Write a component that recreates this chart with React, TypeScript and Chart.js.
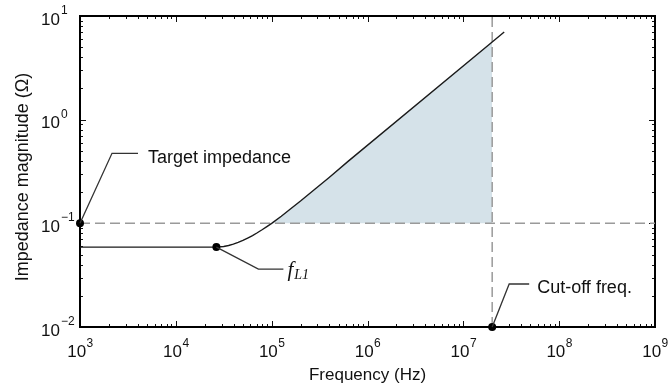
import { useEffect, useRef } from 'react';
import { Chart, registerables } from 'chart.js';

Chart.register(...registerables);

// ---- data ----
const freqHz = [1000, 26500, 31600, 35500, 39800, 44700, 50100, 56200, 63100, 70800, 79400, 89100, 100000, 126000, 158000, 200000, 282000, 398000, 631000, 20000000, 26700000];
const impedanceOhm = [0.059, 0.059, 0.0598, 0.0611, 0.063, 0.0655, 0.0684, 0.0721, 0.0762, 0.0811, 0.0867, 0.0931, 0.1, 0.1172, 0.1384, 0.164, 0.213, 0.277, 0.398, 5.62, 7.0];
const targetImpedance = 0.1;
const cutoffFreq = 2e7;
const fL1Freq = 26500;
const fL1Impedance = 0.059;
const xRange = [1e3, 1e9];
const yRange = [0.01, 10];
const xTickExponents = [3, 4, 5, 6, 7, 8, 9];
const yTickExponents = [-2, -1, 0, 1];
const xTitle = 'Frequency (Hz)';
const yTitle = 'Impedance magnitude (Ω)';
const targetLabel = 'Target impedance';
const cutoffLabel = 'Cut-off freq.';

const SANS = '"Liberation Sans", Arial, Helvetica, sans-serif';
const SERIF = '"Liberation Serif", "Times New Roman", serif';

const curvePts = freqHz.map((f, i) => ({ x: f, y: impedanceOhm[i] }));
const fillPts = curvePts.filter((p) => p.x >= 1e5 && p.x <= cutoffFreq);

function supText(n: number) {
  return n < 0 ? '\u2212' + Math.abs(n) : String(n);
}

const decor = {
  id: 'decor',
  beforeDatasetsDraw(chart: any) {
    const { ctx, chartArea: a, scales } = chart;
    const xs = scales.x;
    const ys = scales.y;
    ctx.save();
    // inward ticks
    ctx.strokeStyle = '#111';
    ctx.lineWidth = 1;
    ctx.beginPath();
    for (let k = xTickExponents[0]; k <= xTickExponents[xTickExponents.length - 1]; k++) {
      for (let m = 1; m <= 9; m++) {
        const v = m * Math.pow(10, k);
        if (v > xRange[1] * 1.0001) break;
        const px = Math.round(xs.getPixelForValue(v)) + 0.5;
        const len = m === 1 ? 6 : 3;
        ctx.moveTo(px, a.bottom);
        ctx.lineTo(px, a.bottom - len);
        ctx.moveTo(px, a.top);
        ctx.lineTo(px, a.top + len);
      }
    }
    for (let k = yTickExponents[0]; k <= yTickExponents[yTickExponents.length - 1]; k++) {
      for (let m = 1; m <= 9; m++) {
        const v = m * Math.pow(10, k);
        if (v > yRange[1] * 1.0001) break;
        const py = Math.round(ys.getPixelForValue(v)) + 0.5;
        const len = m === 1 ? 6 : 3;
        ctx.moveTo(a.left, py);
        ctx.lineTo(a.left + len, py);
        ctx.moveTo(a.right, py);
        ctx.lineTo(a.right - len, py);
      }
    }
    ctx.stroke();
    // frame
    ctx.lineWidth = 2;
    ctx.strokeStyle = '#000';
    ctx.strokeRect(a.left, a.top, a.right - a.left, a.bottom - a.top);
    ctx.restore();
  },
  afterDraw(chart: any) {
    const { ctx, chartArea: a, scales } = chart;
    const xs = scales.x;
    const ys = scales.y;
    ctx.save();
    ctx.fillStyle = '#111';
    ctx.textBaseline = 'alphabetic';
    // x tick labels
    for (const e of xTickExponents) {
      const px = xs.getPixelForValue(Math.pow(10, e));
      ctx.font = '17px ' + SANS;
      const w1 = ctx.measureText('10').width;
      ctx.font = '12px ' + SANS;
      const s = supText(e);
      const w2 = ctx.measureText(s).width;
      const start = px - (w1 + w2) / 2;
      ctx.textAlign = 'left';
      ctx.font = '17px ' + SANS;
      ctx.fillText('10', start, a.bottom + 29.5);
      ctx.font = '12px ' + SANS;
      ctx.fillText(s, start + w1 + 0.5, a.bottom + 20);
    }
    // y tick labels
    for (const e of yTickExponents) {
      const py = ys.getPixelForValue(Math.pow(10, e));
      ctx.font = '17px ' + SANS;
      ctx.textAlign = 'right';
      ctx.fillText('10', a.left - 20, py + 8.5);
      ctx.font = '12px ' + SANS;
      ctx.textAlign = 'left';
      ctx.fillText(supText(e), a.left - 19, py - 2);
    }
    // axis titles
    ctx.font = '17px ' + SANS;
    ctx.textAlign = 'center';
    ctx.fillText(xTitle, (a.left + a.right) / 2 + 0, 380);
    ctx.save();
    ctx.translate(28, 177);
    ctx.rotate(-Math.PI / 2);
    ctx.font = '18px ' + SANS;
    ctx.fillText(yTitle, 0, 0);
    ctx.restore();

    // annotations with leader lines
    ctx.strokeStyle = '#333';
    ctx.lineWidth = 1.3;
    const tx = xs.getPixelForValue(xRange[0]);
    const ty = ys.getPixelForValue(targetImpedance);
    ctx.beginPath();
    ctx.moveTo(tx, ty);
    ctx.lineTo(tx + 32, ty - 70);
    ctx.lineTo(tx + 58, ty - 70);
    ctx.stroke();
    ctx.font = '18px ' + SANS;
    ctx.textAlign = 'left';
    ctx.fillText(targetLabel, tx + 68, ty - 60);

    const fx = xs.getPixelForValue(fL1Freq);
    const fy = ys.getPixelForValue(fL1Impedance);
    ctx.beginPath();
    ctx.moveTo(fx, fy);
    ctx.lineTo(fx + 42, fy + 22);
    ctx.lineTo(fx + 67, fy + 22);
    ctx.stroke();
    ctx.font = 'italic 21px ' + SERIF;
    ctx.fillText('f', fx + 71, fy + 29);
    const fw = ctx.measureText('f').width;
    ctx.font = 'italic 14px ' + SERIF;
    ctx.fillText('L1', fx + 71 + fw + 1, fy + 31.5);

    const cx = xs.getPixelForValue(cutoffFreq);
    const cy = ys.getPixelForValue(yRange[0]);
    ctx.beginPath();
    ctx.moveTo(cx, cy);
    ctx.lineTo(cx + 17, cy - 43);
    ctx.lineTo(cx + 37, cy - 43);
    ctx.stroke();
    ctx.font = '18px ' + SANS;
    ctx.fillText(cutoffLabel, cx + 45, cy - 34);
    ctx.restore();
  },
};

export default function App() {
  const ref = useRef<HTMLCanvasElement>(null);
  useEffect(() => {
    const canvas = ref.current!;
    const chart = new Chart(canvas, {
      type: 'scatter',
      data: {
        datasets: [
          {
            label: 'markers',
            data: [
              { x: xRange[0], y: targetImpedance },
              { x: fL1Freq, y: fL1Impedance },
              { x: cutoffFreq, y: yRange[0] },
            ],
            pointRadius: 4,
            pointBackgroundColor: '#000',
            pointBorderColor: '#000',
            pointBorderWidth: 0,
            showLine: false,
            clip: false as any,
            order: 1,
          },
          {
            label: 'impedance',
            data: curvePts,
            showLine: true,
            borderColor: '#1a1a1a',
            borderWidth: 1.4,
            pointRadius: 0,
            tension: 0,
            fill: false,
            order: 2,
          },
          {
            label: 'target',
            data: [
              { x: xRange[0], y: targetImpedance },
              { x: xRange[1], y: targetImpedance },
            ],
            showLine: true,
            borderColor: '#9a9a9a',
            borderWidth: 1.5,
            borderDash: [10, 5],
            pointRadius: 0,
            order: 3,
          },
          {
            label: 'cutoff',
            data: [
              { x: cutoffFreq, y: yRange[0] },
              { x: cutoffFreq, y: yRange[1] },
            ],
            showLine: true,
            borderColor: '#9a9a9a',
            borderWidth: 1.5,
            borderDash: [10, 5],
            pointRadius: 0,
            order: 3,
          },
          {
            label: 'excess',
            data: fillPts,
            showLine: true,
            borderWidth: 0,
            borderColor: 'rgba(0,0,0,0)',
            backgroundColor: 'rgb(213, 226, 233)',
            pointRadius: 0,
            tension: 0,
            fill: { value: targetImpedance },
            order: 4,
          },
        ],
      },
      options: {
        animation: false,
        responsive: false,
        events: [],
        layout: { padding: { left: 80, top: 16, right: 13, bottom: 60 } },
        plugins: {
          legend: { display: false },
          tooltip: { enabled: false },
        },
        scales: {
          x: { type: 'logarithmic', min: xRange[0], max: xRange[1], display: false },
          y: { type: 'logarithmic', min: yRange[0], max: yRange[1], display: false },
        },
      },
      plugins: [decor],
    } as any);
    return () => chart.destroy();
  }, []);
  return (
    <div style={{ position: 'fixed', left: 0, top: 0, width: 668, height: 387, background: '#fff' }}>
      <canvas ref={ref} width={668} height={387} style={{ width: 668, height: 387, display: 'block' }} />
    </div>
  );
}
